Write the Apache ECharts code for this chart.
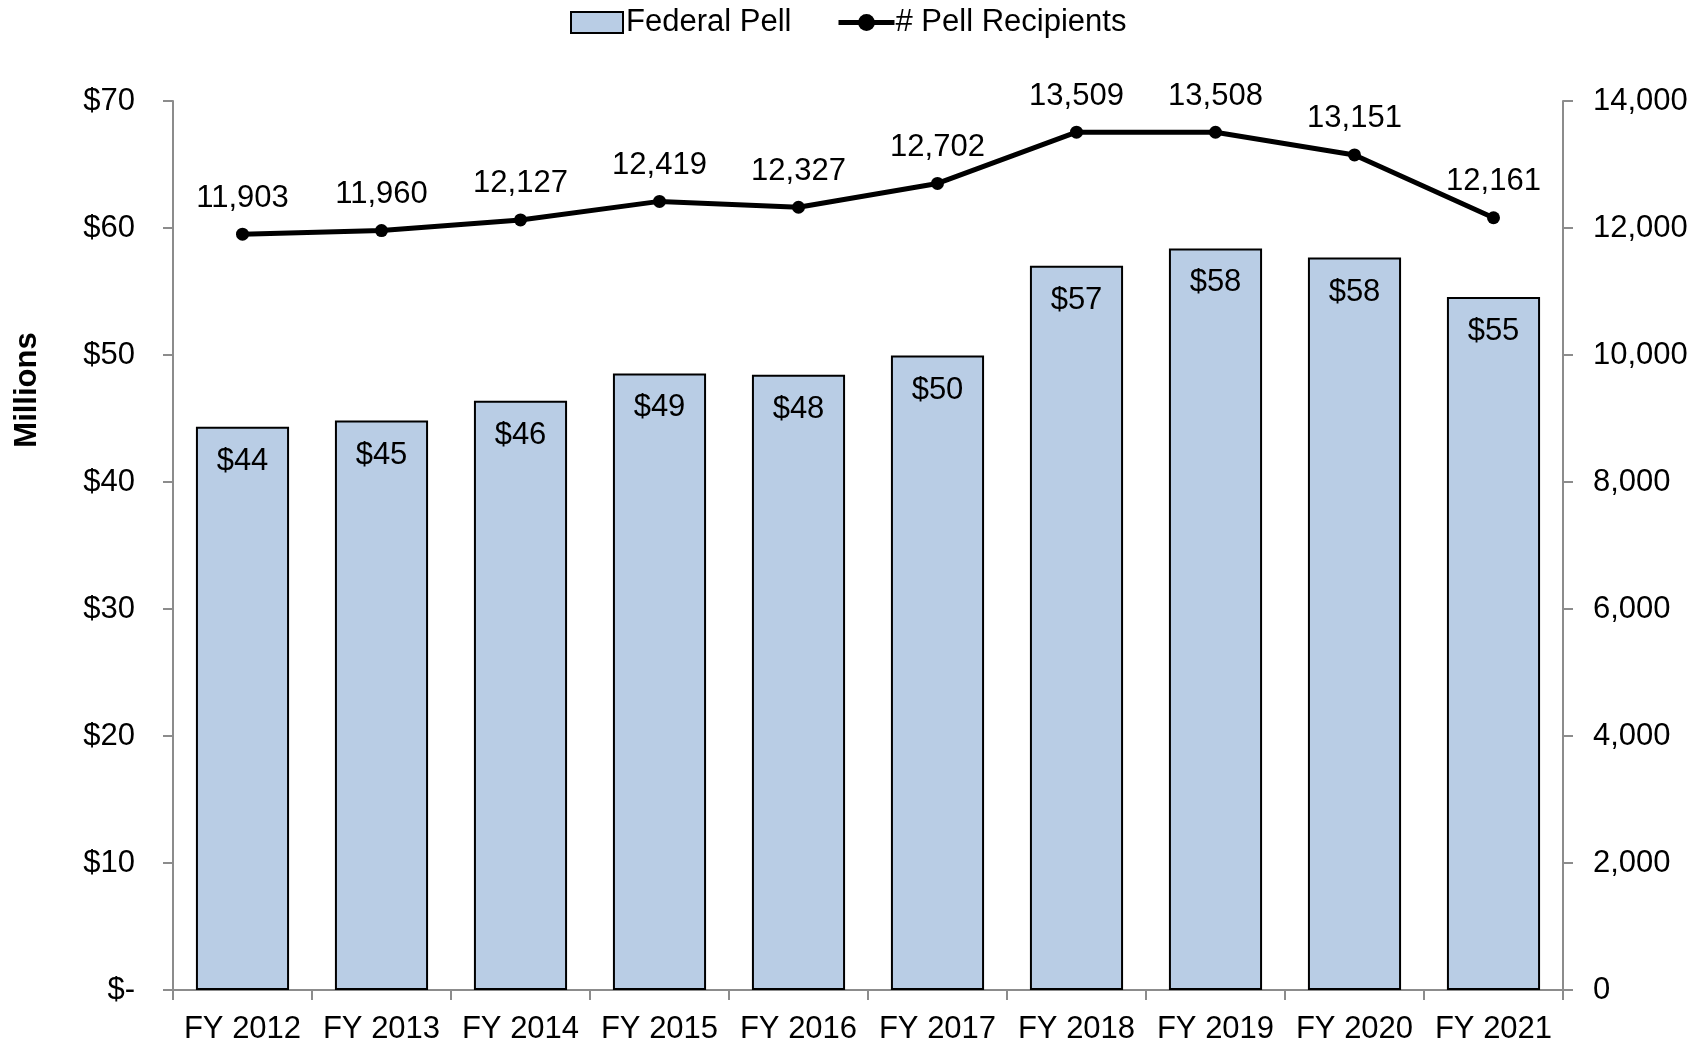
<!DOCTYPE html>
<html>
<head>
<meta charset="utf-8">
<script src="https://cdn.jsdelivr.net/npm/echarts@6/dist/echarts.min.js"></script>
<style>
  html, body { margin: 0; padding: 0; background: #fff; }
  #chart { width: 1696px; height: 1045px; }
</style>
</head>
<body>
<div id="chart"></div>
<script>
// Fiscal years on the category axis
const years = ['FY 2012', 'FY 2013', 'FY 2014', 'FY 2015', 'FY 2016',
               'FY 2017', 'FY 2018', 'FY 2019', 'FY 2020', 'FY 2021'];
// Federal Pell dollars, in millions
const pellDollars = [44.35, 44.84, 46.39, 48.55, 48.44, 49.96, 57.03, 58.39, 57.68, 54.56];
// Number of Pell recipients
const pellRecipients = [11903, 11960, 12127, 12419, 12327, 12702, 13509, 13508, 13151, 12161];

const FONT = "'Liberation Sans', Arial, Helvetica, sans-serif";
const AXIS_GRAY = '#8c8c8c';
const fmtThousands = v => Math.round(v).toString().replace(/\B(?=(\d{3})+(?!\d))/g, ',');

const chart = echarts.init(document.getElementById('chart'), null, { renderer: 'canvas' });

chart.setOption({
  animation: false,
  backgroundColor: '#ffffff',
  textStyle: { fontFamily: FONT, color: '#000' },
  legend: [
    {
      data: [{ name: 'Federal Pell', icon: 'rect' }],
      left: 565, top: 2,
      itemWidth: 52, itemHeight: 21, itemGap: 0,
      itemStyle: { borderColor: '#000', borderWidth: 2 },
      textStyle: { fontFamily: FONT, fontSize: 31, color: '#000', padding: [0, 0, 0, -2] }
    },
    {
      data: ['# Pell Recipients'],
      left: 831, top: 2,
      itemWidth: 56, itemHeight: 21, itemGap: 0,
      lineStyle: { width: 5, color: '#000' },
      textStyle: { fontFamily: FONT, fontSize: 31, color: '#000', padding: [0, 0, 0, -4] }
    }
  ],
  graphic: [
    {
      type: 'text',
      x: 27, y: 390,
      rotation: Math.PI / 2,
      style: {
        text: 'Millions',
        font: "bold 31px 'Liberation Sans', Arial, Helvetica, sans-serif",
        fill: '#000',
        align: 'center',
        verticalAlign: 'middle'
      }
    }
  ],
  grid: {
    left: 173, right: 133, top: 101, bottom: 55,
    containLabel: false,
    outerBoundsMode: 'none'
  },
  xAxis: {
    type: 'category',
    data: years,
    boundaryGap: true,
    axisLine: { show: true, lineStyle: { color: AXIS_GRAY, width: 2 } },
    axisTick: { show: true, length: 10, lineStyle: { color: AXIS_GRAY, width: 2 } },
    axisLabel: { fontFamily: FONT, fontSize: 31, color: '#000', margin: 24, interval: 0 },
    splitLine: { show: false }
  },
  yAxis: [
    {
      type: 'value',
      min: 0, max: 70, interval: 10,
      position: 'left',
      axisLine: { show: true, lineStyle: { color: AXIS_GRAY, width: 2 } },
      axisTick: { show: true, length: 10, lineStyle: { color: AXIS_GRAY, width: 2 } },
      axisLabel: {
        fontFamily: FONT, fontSize: 31, color: '#000', margin: 38,
        formatter: v => v === 0 ? '$-' : '$' + v
      },
      splitLine: { show: false }
    },
    {
      type: 'value',
      min: 0, max: 14000, interval: 2000,
      position: 'right',
      axisLine: { show: true, lineStyle: { color: AXIS_GRAY, width: 2 } },
      axisTick: { show: true, length: 10, lineStyle: { color: AXIS_GRAY, width: 2 } },
      axisLabel: {
        fontFamily: FONT, fontSize: 31, color: '#000', margin: 30,
        formatter: v => fmtThousands(v)
      },
      splitLine: { show: false }
    }
  ],
  series: [
    {
      name: 'Federal Pell',
      type: 'bar',
      yAxisIndex: 0,
      data: pellDollars,
      barCategoryGap: '33%',
      itemStyle: { color: '#b9cde5', borderColor: '#000', borderWidth: 2 },
      label: {
        show: true,
        position: 'insideTop',
        distance: 19,
        fontFamily: FONT, fontSize: 31, color: '#000',
        formatter: p => '$' + Math.round(p.value)
      },
      z: 2
    },
    {
      name: '# Pell Recipients',
      type: 'line',
      yAxisIndex: 1,
      data: pellRecipients,
      symbol: 'circle',
      symbolSize: 13,
      lineStyle: { color: '#000', width: 5 },
      itemStyle: { color: '#000' },
      label: {
        show: true,
        position: 'top',
        distance: 14,
        fontFamily: FONT, fontSize: 31, color: '#000',
        formatter: p => fmtThousands(p.value)
      },
      z: 3
    }
  ]
});
</script>
</body>
</html>
